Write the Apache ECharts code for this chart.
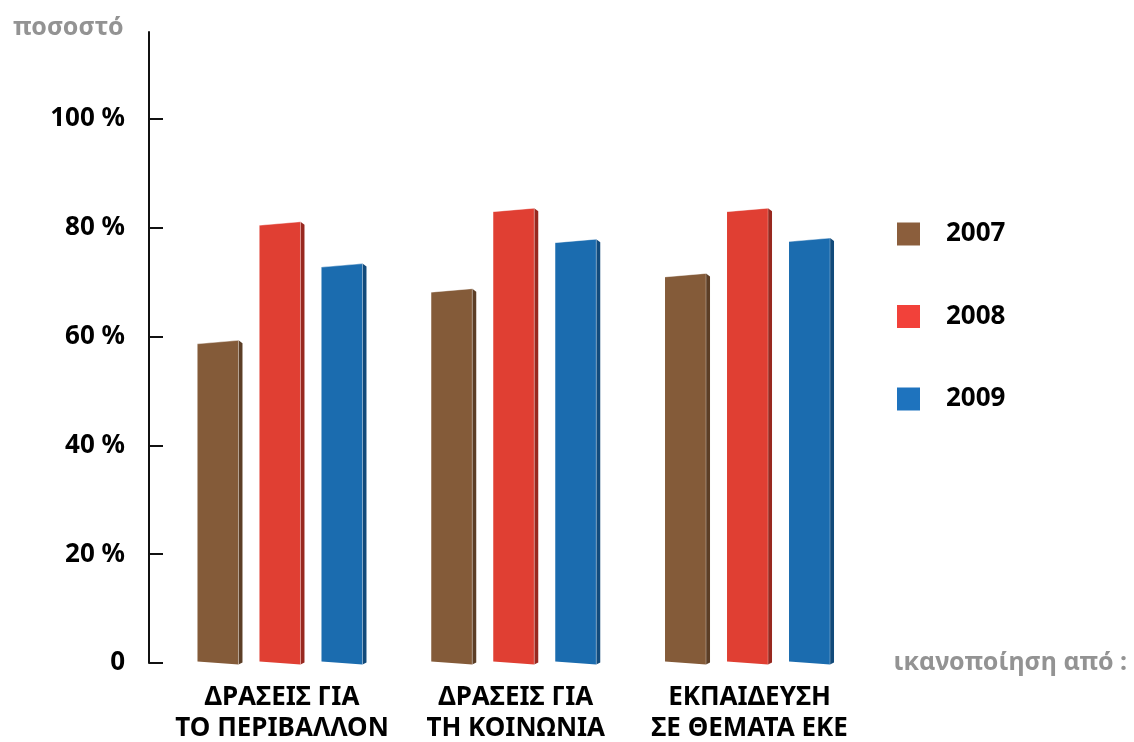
<!DOCTYPE html>
<html>
<head>
<meta charset="utf-8">
<script src="https://cdn.jsdelivr.net/npm/echarts@6/dist/echarts.min.js"></script>
<style>
html,body{margin:0;padding:0;background:#fff;overflow:hidden;}
#chart{width:1134px;height:742px;}
</style>
</head>
<body>
<div id="chart"></div>
<script>
const categories = ['ΔΡΑΣΕΙΣ ΓΙΑ\nΤΟ ΠΕΡΙΒΑΛΛΟΝ', 'ΔΡΑΣΕΙΣ ΓΙΑ\nΤΗ ΚΟΙΝΩΝΙΑ', 'ΕΚΠΑΙΔΕΥΣΗ\nΣΕ ΘΕΜΑΤΑ ΕΚΕ'];
const years = ['2007', '2008', '2009'];
const values2007 = [59, 68.5, 71.3];
const values2008 = [80.8, 83.3, 83.3];
const values2009 = [73.1, 77.6, 77.8];
const yTicks = [0, 20, 40, 60, 80, 100];

const FONT = '"Noto Sans", "DejaVu Sans", sans-serif';
const frontColors = ['#845B39', '#E03F33', '#1B6CAF'];
const sideColors = ['#5C3E26', '#98281F', '#124A7A'];
const legendColors = ['#8B5E3C', '#F2413A', '#1E73BE'];
const seriesValues = [values2007, values2008, values2009];
const OFFSETS = [-62, 0, 62];

function renderItem(params, api) {
  const s = params.seriesIndex;
  const cat = api.value(0), v = api.value(1);
  const top = api.coord([cat, v]);
  const base = api.coord([cat, 0]);
  const fw = 41, sw = 4, tilt = 1.75, btilt = 1.5;
  const cx = top[0] + OFFSETS[s];
  const x0 = cx - (fw + sw) / 2, x1 = x0 + fw, x2 = x1 + sw;
  const yt = top[1], yb = base[1];
  return {
    type: 'group',
    children: [
      { type: 'polygon',
        shape: { points: [[x1, yt - tilt], [x2, yt - tilt + 3], [x2, yb + btilt - 2], [x1, yb + btilt]] },
        style: { fill: sideColors[s] } },
      { type: 'polygon',
        shape: { points: [[x0, yt + tilt], [x1, yt - tilt], [x1, yb + btilt], [x0, yb - btilt]] },
        style: { fill: frontColors[s] } },
      { type: 'line',
        shape: { x1: x0, y1: yt + tilt, x2: x1, y2: yt - tilt },
        style: { stroke: 'rgba(255,255,255,0.45)', lineWidth: 1 } },
      { type: 'line',
        shape: { x1: x1, y1: yt - tilt, x2: x1, y2: yb + btilt },
        style: { stroke: 'rgba(255,255,255,0.3)', lineWidth: 1 } }
    ]
  };
}

const chart = echarts.init(document.getElementById('chart'));
chart.setOption({
  animation: false,
  backgroundColor: '#fff',
  title: [{
    text: 'ποσοστό', left: 8, top: 10,
    textStyle: { fontFamily: FONT, fontSize: 25, fontWeight: 'bold', color: '#939393' }
  }],
  legend: {
    orient: 'vertical', left: 892, top: 216,
    itemWidth: 23, itemHeight: 23, itemGap: 56.5,
    icon: 'rect',
    data: years.map((y, i) => ({ name: y, itemStyle: { color: legendColors[i] } })),
    textStyle: { fontFamily: FONT, fontSize: 26, fontWeight: 'bold', color: '#000', padding: [0, 0, 0, 21], lineHeight: 23 }
  },
  grid: { left: 165.1, right: 267.6, top: 32, bottom: 79, containLabel: false, outerBoundsMode: 'none' },
  xAxis: {
    type: 'category',
    data: categories,
    axisLine: { show: false },
    axisTick: { show: false },
    axisLabel: { fontFamily: FONT, fontSize: 26, fontWeight: 'bold', color: '#000', lineHeight: 31, margin: 19, interval: 0 },
    name: 'ικανοποίηση από :',
    nameLocation: 'end',
    nameGap: 27,
    nameTextStyle: { fontFamily: FONT, fontSize: 25, fontWeight: 'bold', color: '#939393', align: 'left', verticalAlign: 'middle' }
  },
  yAxis: {
    type: 'value',
    min: 0, max: 116,
    offset: 16.1,
    axisLine: { show: true, lineStyle: { color: '#111', width: 2 } },
    axisTick: { show: true, inside: true, length: 14, lineStyle: { color: '#111', width: 2 }, customValues: yTicks },
    axisLabel: { customValues: yTicks, margin: 24, fontFamily: FONT, fontSize: 26, fontWeight: 'bold', color: '#000',
      formatter: v => v === 0 ? '0' : v + ' %' },
    splitLine: { show: false }
  },
  series: years.map((y, i) => ({
    name: y,
    type: 'custom',
    renderItem: renderItem,
    itemStyle: { color: legendColors[i] },
    encode: { x: 0, y: 1 },
    data: seriesValues[i].map((v, c) => [c, v])
  }))
});
</script>
</body>
</html>
